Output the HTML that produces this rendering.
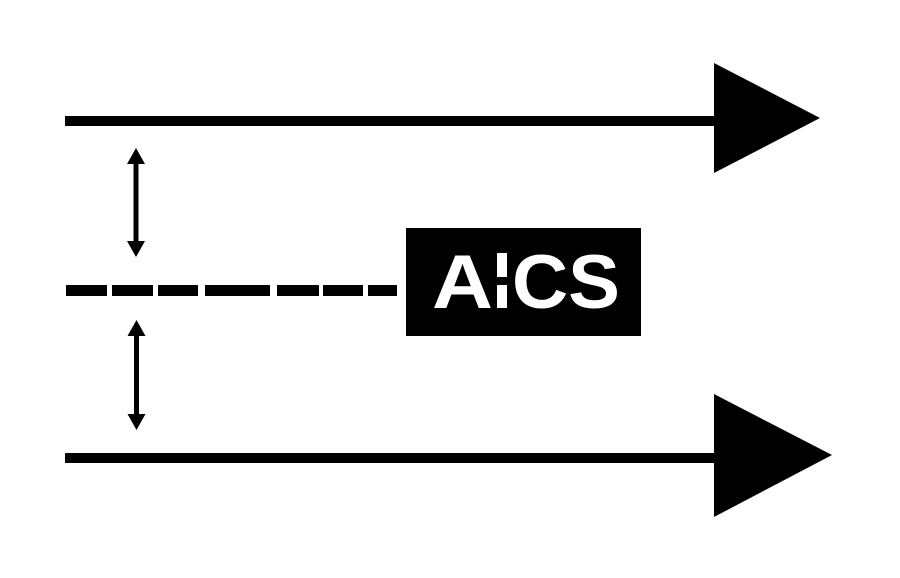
<!DOCTYPE html>
<html><head><style>html,body{margin:0;padding:0;background:#fff}svg{display:block}</style></head>
<body>
<svg width="900" height="578" viewBox="0 0 900 578" xmlns="http://www.w3.org/2000/svg">
<rect width="900" height="578" fill="#fff"/>
<rect x="65" y="116" width="652" height="10" fill="#000"/>
<polygon points="714,63 714,173 820,118" fill="#000"/>
<rect x="65" y="453" width="652" height="10" fill="#000"/>
<polygon points="714,394 714,517 832,455" fill="#000"/>
<g fill="#000">
<rect x="66" y="285" width="41" height="11"/>
<rect x="112" y="285" width="41" height="11"/>
<rect x="158" y="285" width="40" height="11"/>
<rect x="205" y="285" width="65" height="11"/>
<rect x="277" y="285" width="42" height="11"/>
<rect x="323" y="285" width="40" height="11"/>
<rect x="368" y="285" width="29" height="11"/>
<rect x="133.5" y="160" width="5" height="86"/>
<polygon points="136,148 127,164 145,164"/>
<polygon points="136,257 127,241 145,241"/>
<rect x="134" y="332" width="5" height="86"/>
<polygon points="136.5,320 127.5,336 145.5,336"/>
<polygon points="136.5,430 127.5,414 145.5,414"/>
</g>
<rect x="406" y="228" width="235" height="108" fill="#000"/>
<text x="432" y="308" font-family="Liberation Sans, sans-serif" font-weight="bold" font-size="76" fill="#fff" textLength="61" lengthAdjust="spacingAndGlyphs">A</text>
<rect x="497" y="253" width="10" height="24" fill="#fff"/>
<rect x="497" y="285" width="10" height="23" fill="#fff"/>
<text x="512" y="308" font-family="Liberation Sans, sans-serif" font-weight="bold" font-size="76" fill="#fff" textLength="108" lengthAdjust="spacingAndGlyphs">CS</text>
</svg>
</body></html>
